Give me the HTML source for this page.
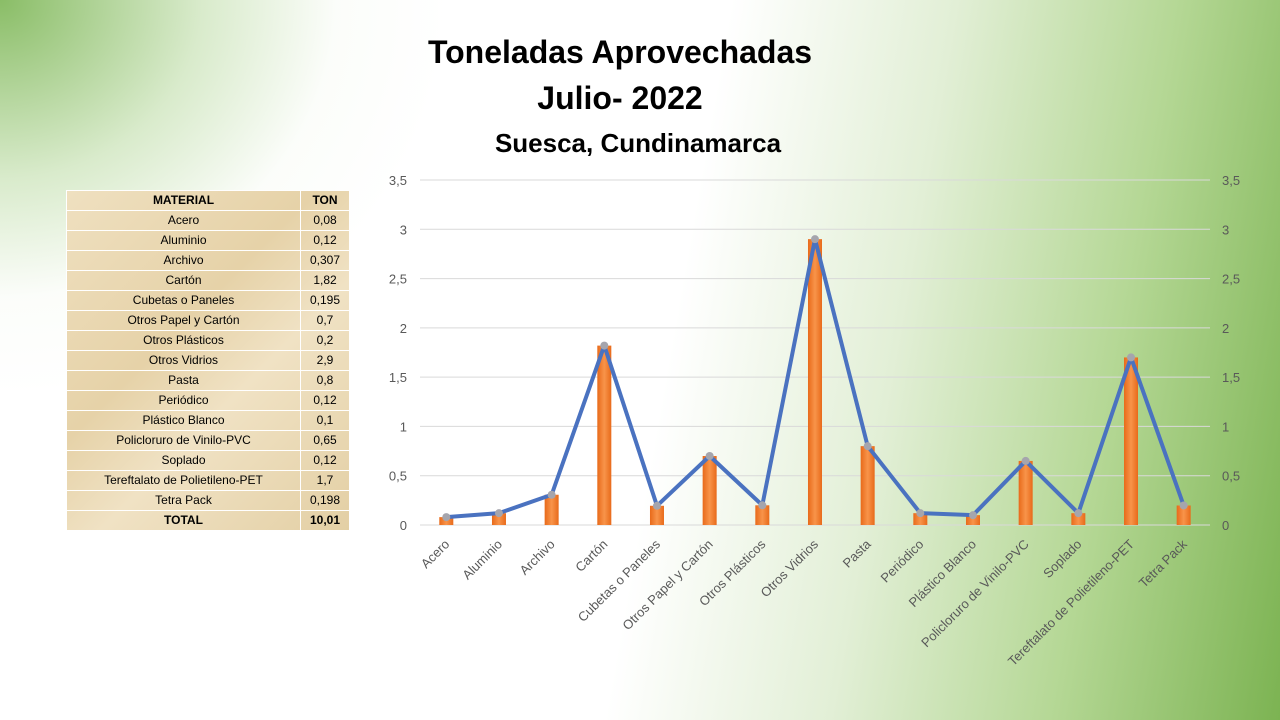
<!DOCTYPE html>
<html><head><meta charset="utf-8">
<style>
html,body{margin:0;padding:0;}
body{width:1280px;height:720px;overflow:hidden;position:relative;font-family:"Liberation Sans",sans-serif;
background:radial-gradient(ellipse 35% 55% at 0% 0%, rgba(125,182,86,0.9), rgba(170,210,140,0.45) 45%, rgba(230,242,220,0.15) 75%, rgba(255,255,255,0) 100%),
linear-gradient(100deg,#ffffff 0%,#ffffff 52%,#e2efd6 68%,#b4d794 84%,#7cb352 100%);}
.t{position:absolute;left:0;width:1280px;text-align:center;font-weight:bold;color:#000;}
table{position:absolute;left:66px;top:190px;border-collapse:collapse;font-size:12px;color:#000;
background:linear-gradient(135deg,#efe0c0,#e6d2a8 40%,#f0e2c4 60%,#e3cfa4);}
td{border:1px solid #fff;height:19px;padding:0;text-align:center;line-height:19px;}
td.a{width:233px}td.b{width:48px}
</style></head><body>
<div class="t" style="top:34px;font-size:32px;left:-20px">Toneladas Aprovechadas</div>
<div class="t" style="top:80px;font-size:32px;left:-20px">Julio- 2022</div>
<div class="t" style="top:128px;font-size:26px;left:-2px">Suesca, Cundinamarca</div>
<table>
<tr><td class="a"><b>MATERIAL</b></td><td class="b"><b>TON</b></td></tr>
<tr><td class="a">Acero</td><td class="b">0,08</td></tr>
<tr><td class="a">Aluminio</td><td class="b">0,12</td></tr>
<tr><td class="a">Archivo</td><td class="b">0,307</td></tr>
<tr><td class="a">Cartón</td><td class="b">1,82</td></tr>
<tr><td class="a">Cubetas o Paneles</td><td class="b">0,195</td></tr>
<tr><td class="a">Otros Papel y Cartón</td><td class="b">0,7</td></tr>
<tr><td class="a">Otros Plásticos</td><td class="b">0,2</td></tr>
<tr><td class="a">Otros Vidrios</td><td class="b">2,9</td></tr>
<tr><td class="a">Pasta</td><td class="b">0,8</td></tr>
<tr><td class="a">Periódico</td><td class="b">0,12</td></tr>
<tr><td class="a">Plástico Blanco</td><td class="b">0,1</td></tr>
<tr><td class="a">Policloruro de Vinilo-PVC</td><td class="b">0,65</td></tr>
<tr><td class="a">Soplado</td><td class="b">0,12</td></tr>
<tr><td class="a">Tereftalato de Polietileno-PET</td><td class="b">1,7</td></tr>
<tr><td class="a">Tetra Pack</td><td class="b">0,198</td></tr>
<tr><td class="a"><b>TOTAL</b></td><td class="b"><b>10,01</b></td></tr>
</table>
<svg id="c" width="1280" height="720" style="position:absolute;left:0;top:0">
<defs><linearGradient id="g" x1="0" x2="1"><stop offset="0" stop-color="#e86a1a"/><stop offset="0.5" stop-color="#f8944a"/><stop offset="1" stop-color="#e86a1a"/></linearGradient></defs>
</svg>
<script>
var s=document.getElementById('c'),h='';
var names=["Acero","Aluminio","Archivo","Cartón","Cubetas o Paneles","Otros Papel y Cartón","Otros Plásticos","Otros Vidrios","Pasta","Periódico","Plástico Blanco","Policloruro de Vinilo-PVC","Soplado","Tereftalato de Polietileno-PET","Tetra Pack"];
var v=[0.08,0.12,0.307,1.82,0.195,0.7,0.2,2.9,0.8,0.12,0.1,0.65,0.12,1.7,0.198];
function Y(a){return 525-98.57*a;}
var lab=["0","0,5","1","1,5","2","2,5","3","3,5"];
for(var i=0;i<8;i++){var y=Y(i*0.5);
h+='<line x1="420" x2="1210" y1="'+y+'" y2="'+y+'" stroke="#d9d9d9" stroke-width="1"/>';
h+='<text x="407" y="'+(y+5)+'" text-anchor="end" font-size="13" fill="#595959" font-family="Liberation Sans">'+lab[i]+'</text>';
h+='<text x="1222" y="'+(y+5)+'" font-size="13" fill="#595959" font-family="Liberation Sans">'+lab[i]+'</text>';}
var pts=[];
for(var i=0;i<15;i++){var x=446.3+52.67*i,y=Y(v[i]);pts.push(x+','+y);
h+='<rect x="'+(x-7)+'" y="'+y+'" width="14" height="'+(525-y)+'" fill="url(#g)"/>';
h+='<text transform="translate('+(x+4)+',545) rotate(-45)" text-anchor="end" font-size="13" fill="#595959" font-family="Liberation Sans">'+names[i]+'</text>';}
h+='<polyline points="'+pts.join(' ')+'" fill="none" stroke="#4a72c0" stroke-width="4" stroke-linejoin="round"/>';
for(var i=0;i<15;i++){var p=pts[i].split(',');h+='<circle cx="'+p[0]+'" cy="'+p[1]+'" r="4" fill="#a5a5ad"/>';}
s.innerHTML+=h;
</script>
</body></html>
